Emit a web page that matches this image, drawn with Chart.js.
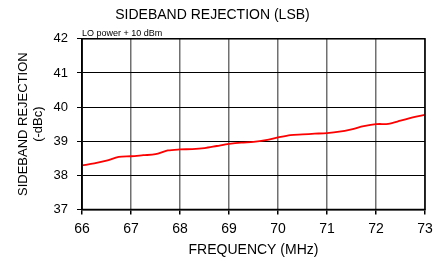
<!DOCTYPE html>
<html>
<head>
<meta charset="utf-8">
<script src="https://cdn.jsdelivr.net/npm/chart.js@4/dist/chart.umd.min.js"></script>
<style>
html,body{margin:0;padding:0;background:#fff;}
#wrap{position:relative;width:443px;height:259px;}
</style>
</head>
<body>
<div id="wrap"><canvas id="c" width="443" height="259"></canvas></div>
<script>
const frequencies = [66,66.25,66.5,66.75,67,67.25,67.5,67.75,68,68.25,68.5,68.75,69,69.25,69.5,69.75,70,70.25,70.5,70.75,71,71.25,71.5,71.75,72,72.25,72.5,72.75,73];
const rejection = [38.29,38.35,38.43,38.54,38.56,38.59,38.62,38.73,38.76,38.77,38.80,38.86,38.92,38.96,38.98,39.03,39.11,39.18,39.20,39.22,39.24,39.28,39.35,39.44,39.50,39.51,39.60,39.70,39.77];
const xTicks = [66,67,68,69,70,71,72,73];
const yTicks = [37,38,39,40,41,42];
const titleText = 'SIDEBAND REJECTION (LSB)';
const noteText = 'LO power + 10 dBm';
const xTitle = 'FREQUENCY (MHz)';
const yTitle = ['SIDEBAND REJECTION','(-dBc)'];

const FONT = "'Liberation Sans', Arial, sans-serif";

const extras = {
  id: 'extras',
  afterDraw(chart) {
    const {ctx, chartArea: a} = chart;
    ctx.save();
    ctx.strokeStyle = '#000';
    ctx.lineWidth = 1.5;
    ctx.strokeRect(a.left, a.top, a.right - a.left, a.bottom - a.top);
    ctx.fillStyle = '#000';
    ctx.font = '9px ' + FONT;
    ctx.textAlign = 'left';
    ctx.textBaseline = 'alphabetic';
    ctx.fillText(noteText, a.left, a.top - 3);
    ctx.restore();
  }
};

new Chart(document.getElementById('c'), {
  type: 'line',
  data: {
    datasets: [{
      data: frequencies.map((f, i) => ({x: f, y: rejection[i]})),
      borderColor: '#ff0000',
      borderWidth: 1.8,
      pointRadius: 0,
      tension: 0.3,
      fill: false
    }]
  },
  options: {
    responsive: false,
    animation: false,
    devicePixelRatio: 1,
    layout: {padding: {left: 0, right: 18, top: 0, bottom: 0}},
    plugins: {
      legend: {display: false},
      tooltip: {enabled: false},
      title: {
        display: true,
        text: titleText,
        color: '#000',
        font: {family: FONT, size: 14, weight: 'normal', lineHeight: 1.2},
        padding: {top: 7, bottom: 15}
      }
    },
    scales: {
      x: {
        type: 'linear',
        min: 66, max: 73,
        afterBuildTicks(s) { s.ticks = xTicks.map(v => ({value: v})); },
        afterFit(s) { s.height = 49.5; },
        grid: {color: '#707070', lineWidth: 1.5, drawTicks: true, tickLength: 5, tickColor: '#000'},
        border: {color: '#000', width: 1.5},
        ticks: {color: '#000', font: {family: FONT, size: 14}, padding: 6, maxRotation: 0},
        title: {display: true, text: xTitle, color: '#000', font: {family: FONT, size: 14}, padding: {top: 2, bottom: 0}}
      },
      y: {
        min: 37, max: 42,
        afterBuildTicks(s) { s.ticks = yTicks.map(v => ({value: v})); },
        afterFit(s) { s.width = 82; },
        grid: {color: '#000', lineWidth: 1, drawTicks: true, tickLength: 5, tickColor: '#000'},
        border: {color: '#000', width: 1.5},
        ticks: {color: '#000', font: {family: FONT, size: 13}, padding: 9},
        title: {display: true, text: yTitle, color: '#000', font: {family: FONT, size: 13, lineHeight: 1.15}, padding: {top: 16, bottom: 4}}
      }
    }
  },
  plugins: [extras]
});
</script>
</body>
</html>
